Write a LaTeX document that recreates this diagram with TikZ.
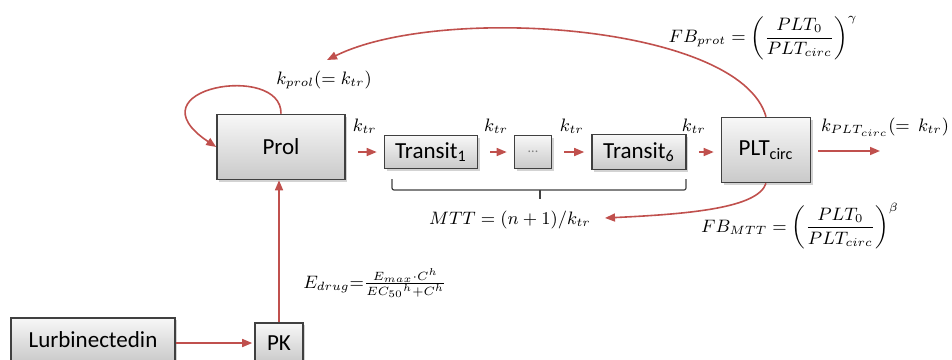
\documentclass[tikz,border=0pt]{standalone}
\usepackage{fontspec}
\usepackage{amsmath}
\usepackage{tikz}
\usetikzlibrary{arrows.meta, positioning, shadows, calc}
\newfontfamily\boxfont{Carlito}
\definecolor{flowred}{RGB}{192,80,77}
\definecolor{boxline}{RGB}{64,64,64}

\begin{document}
\begin{tikzpicture}[
    x=0.5pt, y=-0.5pt,
    every node/.style={font=\small, text=black},
    compbox/.style={rectangle, draw=boxline, line width=0.8pt, top color=gray!6, bottom color=gray!42, drop shadow={shadow xshift=1pt, shadow yshift=-1pt, opacity=0.35}, font=\boxfont\fontsize{11.5}{13}\selectfont, inner sep=2pt},
    flow/.style={-{Triangle[length=5pt,width=4pt]}, line width=0.8pt, flowred},
    stub/.style={flow, shorten <=6pt, shorten >=3.5pt},
    bracket/.style={draw=boxline, line width=0.6pt, rounded corners=1pt}
]
\useasboundingbox (0,0) rectangle (952,359);

% compartments
\node[compbox, minimum width=64pt, minimum height=32.5pt] (prol) at (281,147) {Prol};
\node[compbox, minimum width=46.5pt, minimum height=16.5pt] (tr1) at (431,152) {Transit\textsubscript{1}};
\node[compbox, minimum width=18.5pt, minimum height=16.5pt, font=\boxfont\scriptsize, text=gray] (trdots) at (533,152) {...};
\node[compbox, minimum width=47pt, minimum height=17.5pt] (tr6) at (639,152) {Transit\textsubscript{6}};
\node[compbox, minimum width=44.5pt, minimum height=32.5pt] (plt) at (766,150) {PLT\textsubscript{circ}};
\node[compbox, minimum width=82pt, minimum height=22pt] (lurb) at (93,340) {Lurbinectedin};
\node[compbox, minimum width=24pt, minimum height=20pt] (pk) at (279,343) {PK};

% transit chain
\draw[stub] (prol.east |- tr1.west) -- (tr1.west) node[midway, yshift=13pt] {$k_{tr}$};
\draw[stub] (tr1.east) -- (trdots.west) node[midway, yshift=13pt] {$k_{tr}$};
\draw[stub] (trdots.east) -- (tr6.west) node[midway, yshift=13pt] {$k_{tr}$};
\draw[stub] (tr6.east) -- (plt.west |- tr6.east) node[midway, xshift=-5pt, yshift=13pt] {$k_{tr}$};

% elimination
\coordinate (elim) at (880,151);
\draw[flow, shorten <=3.5pt] (plt.east |- elim) -- (elim);
\node[inner sep=1pt] (kelim) at (885,127) {$k_{PLT_{circ}}(=\,k_{tr})$};

% proliferation
\draw[flow] (prol.north) .. controls (282,62) and (128,88) .. (prol.west);
\node (kprol) at (324,80) {$k_{prol}(= k_{tr})$};

% feedback loops
\coordinate (fbtip) at (327,60);
\draw[flow] (plt.north) .. controls (740,24) and (440,4) .. (fbtip);
\node (fbprot) at (763,38) {$FB_{prot} = \left(\dfrac{PLT_0}{PLT_{circ}}\right)^{\gamma}$};

\coordinate (mtttip) at (605,218);
\draw[flow] (plt.south) .. controls (758,208) and (690,214) .. (mtttip);
\node (fbmtt) at (800,226) {$FB_{MTT} = \left(\dfrac{PLT_0}{PLT_{circ}}\right)^{\beta}$};

% mean transit time
\draw[bracket] (392,179) -- (392,190) -- (686,190) -- (686,179);
\draw[bracket] (540,190) -- (540,199);
\node (mtt) at (510,220) {$MTT = (n+1)/k_{tr}$};

% drug effect
\draw[flow, shorten >=1pt] (lurb.east |- pk.west) -- (pk.west);
\draw[flow] (pk.north) -- (pk.north |- prol.south);
\node (edrug) at (375,283) {$E_{drug}{=}\frac{E_{max}\cdot C^{h}}{EC_{50}{}^{h}+C^{h}}$};

\end{tikzpicture}
\end{document}
